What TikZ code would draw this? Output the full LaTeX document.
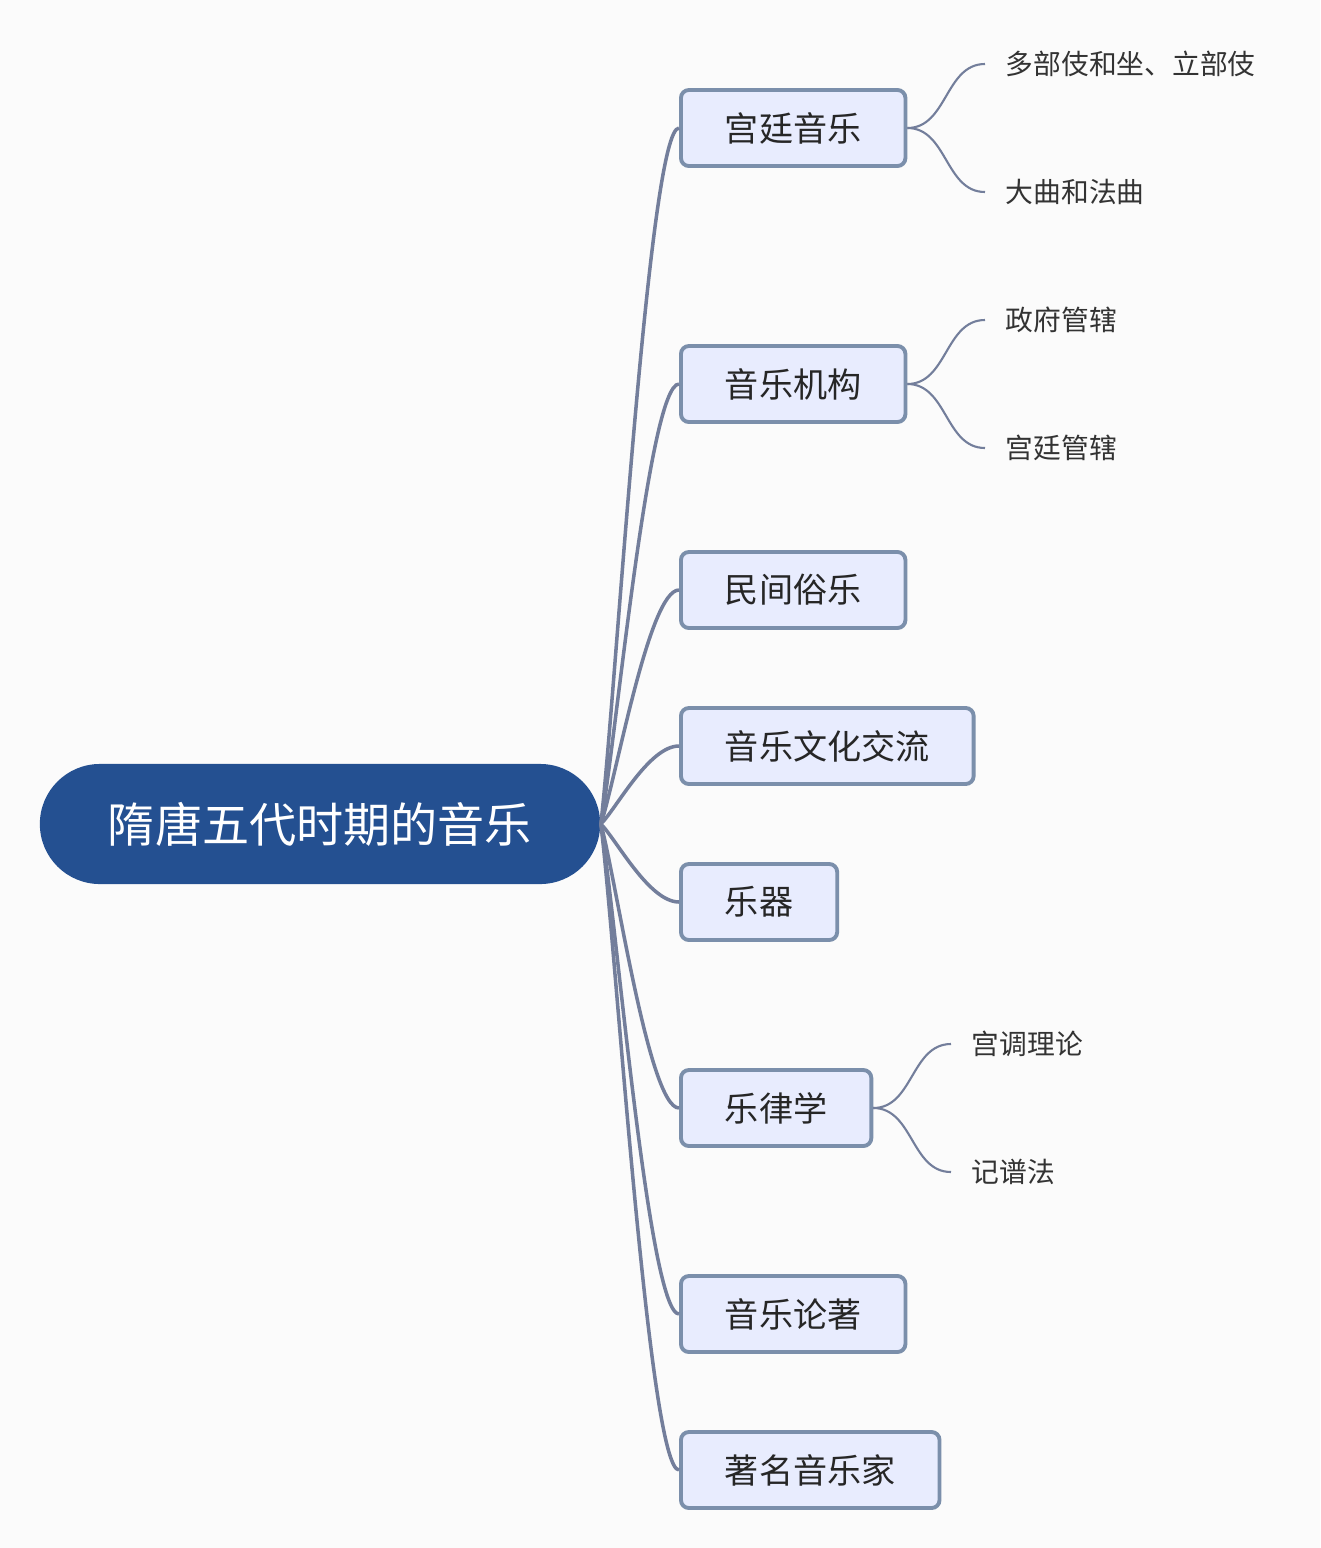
\documentclass[tikz,border=0pt]{standalone}
\usepackage{fontspec}
\setmainfont{Noto Sans CJK SC}
\usepackage{tikz}
\usetikzlibrary{positioning,calc}
\usepackage{xcolor}
\definecolor{rootblue}{RGB}{36,80,145}
\definecolor{boxfill}{RGB}{232,236,254}
\definecolor{boxline}{RGB}{123,143,171}
\definecolor{branchgray}{RGB}{115,126,155}
\definecolor{bgwhite}{RGB}{251,251,251}

\begin{document}
\begin{tikzpicture}[
    x=0.01cm, y=-0.01cm,
    root/.style={rectangle, fill=rootblue, text=white, rounded corners=0.6cm, minimum width=5.6cm, minimum height=1.2cm, font=\fontsize{13.4pt}{16pt}\selectfont},
    box/.style={rectangle, draw=boxline, fill=boxfill, line width=1.1pt, rounded corners=0.08cm, minimum height=0.76cm, inner xsep=0.44cm, anchor=west, text=black!85, font=\fontsize{9.7pt}{12pt}\selectfont},
    leaf/.style={anchor=west, inner xsep=0.2cm, text=black!80, font=\fontsize{7.9pt}{10pt}\selectfont},
    branch/.style={draw=branchgray, line width=1pt},
    twig/.style={draw=branchgray, line width=0.6pt}
]
    \fill[bgwhite] (0,0) rectangle (1320,1548);
    \useasboundingbox (0,0) rectangle (1320,1548);

    % Nodes
    \node[root] (root) at (320,824) {隋唐五代时期的音乐};

    \node[box] (court) at (679,128) {宫廷音乐};
    \node[box] (inst) at (679,384) {音乐机构};
    \node[box] (folk) at (679,590) {民间俗乐};
    \node[box] (exch) at (679,746) {音乐文化交流};
    \node[box] (instr) at (679,902) {乐器};
    \node[box] (theory) at (679,1108) {乐律学};
    \node[box] (works) at (679,1314) {音乐论著};
    \node[box] (people) at (679,1470) {著名音乐家};

    \node[leaf] (court1) at (985,64) {多部伎和坐、立部伎};
    \node[leaf] (court2) at (985,192) {大曲和法曲};
    \node[leaf] (inst1) at (985,320) {政府管辖};
    \node[leaf] (inst2) at (985,448) {宫廷管辖};
    \node[leaf] (theory1) at (951,1044) {宫调理论};
    \node[leaf] (theory2) at (951,1172) {记谱法};

    % Branches
    \foreach \b in {court,inst,folk,exch,instr,theory,works,people}
        \draw[branch] (root.east) .. controls ($(root.east)!0.2!(\b.west)$) and ([xshift=-0.3cm]\b.west) .. (\b.west);

    % Twigs
    \foreach \p/\c in {court/court1,court/court2,inst/inst1,inst/inst2,theory/theory1,theory/theory2}
        \draw[twig] (\p.east) .. controls +(40,0) and +(-40,0) .. (\c.west);
\end{tikzpicture}
\end{document}
